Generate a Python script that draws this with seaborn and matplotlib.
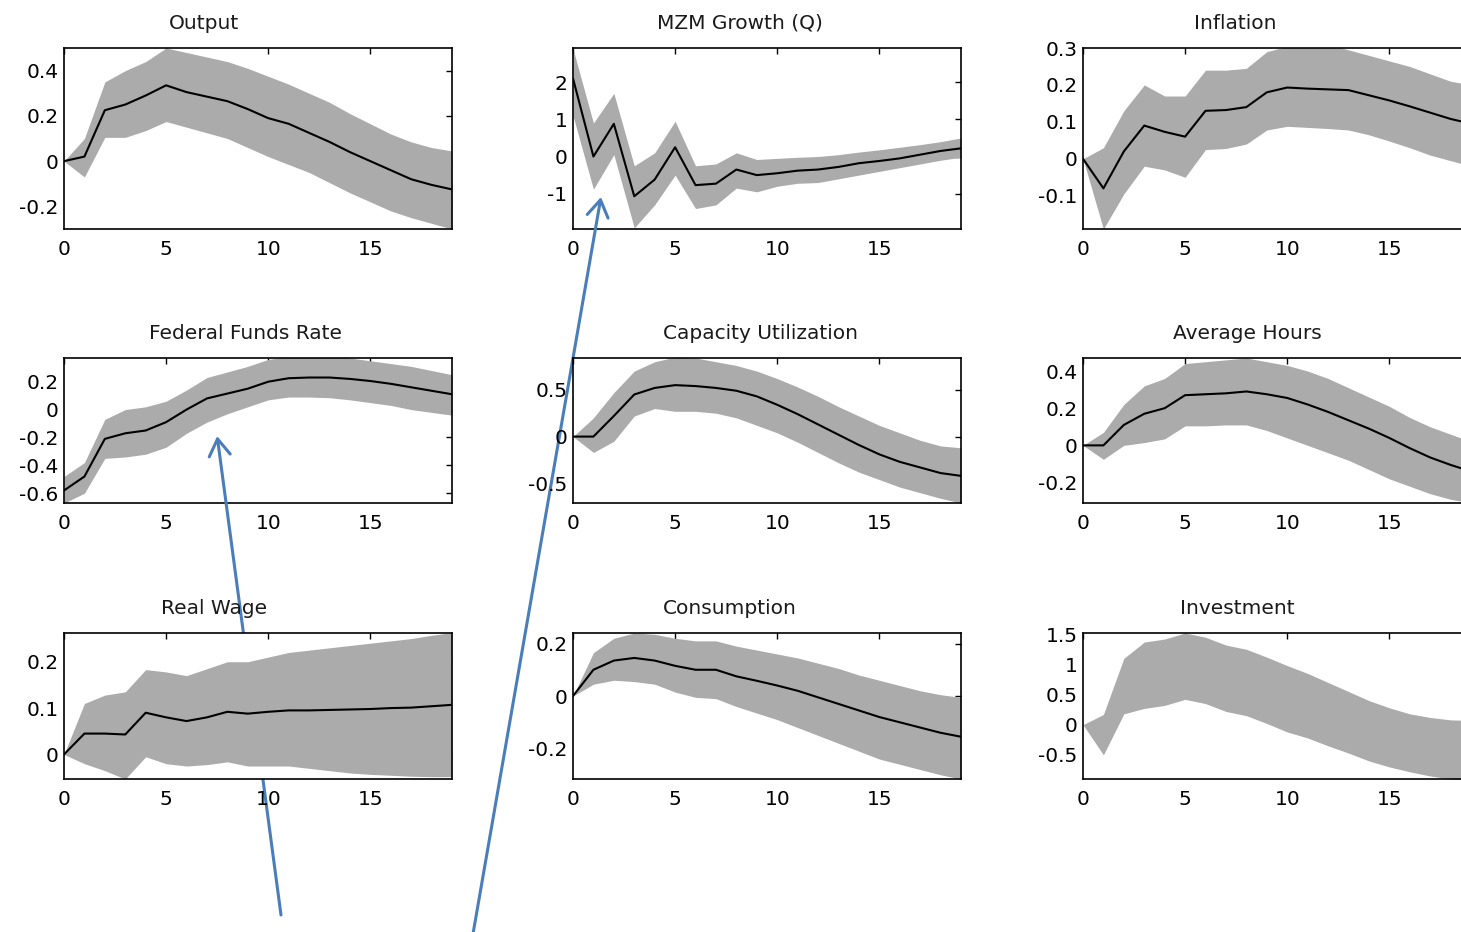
import matplotlib
matplotlib.use("Agg")
import matplotlib.pyplot as plt
import numpy as np
import pandas as pd
import seaborn as sns
from matplotlib.ticker import FuncFormatter


sns.set_theme(style="white")
plt.rcParams["font.family"] = ["DejaVu Sans"]
plt.rcParams["axes.unicode_minus"] = False

horizon = list(range(20))

# impulse responses: median, lower band, upper band
output_med = [0, 0.02, 0.225, 0.25, 0.29, 0.335, 0.305, 0.285, 0.265, 0.23, 0.19, 0.165, 0.125,
              0.085, 0.04, 0.0, -0.04, -0.08, -0.105, -0.125]
output_lo = [0, -0.07, 0.105, 0.105, 0.135, 0.175, 0.15, 0.125, 0.10, 0.06, 0.02, -0.015, -0.05,
             -0.095, -0.14, -0.18, -0.22, -0.25, -0.275, -0.3]
output_hi = [0, 0.1, 0.35, 0.40, 0.44, 0.50, 0.48, 0.46, 0.44, 0.41, 0.375, 0.34, 0.30,
             0.26, 0.21, 0.165, 0.12, 0.085, 0.06, 0.045]

mzm_med = [2.1, 0.0, 0.88, -1.07, -0.62, 0.25, -0.77, -0.73, -0.35, -0.5, -0.45, -0.38, -0.35,
           -0.28, -0.18, -0.12, -0.05, 0.05, 0.15, 0.22]
mzm_lo = [1.1, -0.88, 0.05, -1.92, -1.3, -0.5, -1.4, -1.3, -0.85, -0.95, -0.8, -0.72, -0.7,
          -0.6, -0.5, -0.4, -0.3, -0.2, -0.1, -0.02]
mzm_hi = [2.9, 0.9, 1.7, -0.25, 0.1, 0.95, -0.25, -0.2, 0.1, -0.08, -0.05, -0.02, 0.0,
          0.05, 0.12, 0.18, 0.25, 0.32, 0.4, 0.5]

infl_med = [0, -0.08, 0.02, 0.09, 0.073, 0.06, 0.13, 0.132, 0.14, 0.18, 0.193, 0.19, 0.188,
            0.186, 0.172, 0.158, 0.142, 0.125, 0.108, 0.095]
infl_lo = [0, -0.19, -0.095, -0.02, -0.03, -0.05, 0.025, 0.028, 0.04, 0.078, 0.088, 0.085, 0.082,
           0.078, 0.065, 0.048, 0.03, 0.01, -0.005, -0.02]
infl_hi = [0, 0.03, 0.13, 0.2, 0.17, 0.17, 0.24, 0.24, 0.245, 0.29, 0.305, 0.31, 0.31,
           0.295, 0.28, 0.265, 0.25, 0.23, 0.21, 0.2]

ffr_med = [-0.58, -0.48, -0.21, -0.17, -0.15, -0.09, 0.0, 0.08, 0.115, 0.15, 0.2, 0.225, 0.23,
           0.23, 0.22, 0.205, 0.185, 0.16, 0.135, 0.11]
ffr_lo = [-0.67, -0.6, -0.35, -0.34, -0.32, -0.27, -0.17, -0.09, -0.03, 0.02, 0.07, 0.09, 0.09,
          0.085, 0.07, 0.05, 0.03, 0.0, -0.02, -0.04]
ffr_hi = [-0.48, -0.38, -0.07, 0.0, 0.02, 0.06, 0.14, 0.23, 0.27, 0.31, 0.36, 0.38, 0.39,
          0.39, 0.37, 0.35, 0.33, 0.31, 0.28, 0.25]

cap_med = [0, 0, 0.22, 0.45, 0.52, 0.55, 0.54, 0.52, 0.49, 0.43, 0.34, 0.24, 0.13,
           0.02, -0.09, -0.19, -0.27, -0.33, -0.39, -0.42]
cap_lo = [0, -0.17, -0.05, 0.22, 0.3, 0.27, 0.27, 0.25, 0.2, 0.12, 0.04, -0.06, -0.17,
          -0.28, -0.38, -0.46, -0.54, -0.6, -0.66, -0.71]
cap_hi = [0, 0.2, 0.47, 0.7, 0.8, 0.85, 0.84, 0.8, 0.76, 0.7, 0.62, 0.53, 0.43,
          0.32, 0.22, 0.12, 0.04, -0.04, -0.1, -0.12]

hours_med = [0, 0.0, 0.11, 0.17, 0.2, 0.27, 0.275, 0.28, 0.29, 0.275, 0.255, 0.22, 0.18,
             0.135, 0.09, 0.04, -0.015, -0.065, -0.105, -0.14]
hours_lo = [0, -0.075, 0.0, 0.015, 0.035, 0.105, 0.105, 0.11, 0.11, 0.08, 0.04, 0.0, -0.04,
            -0.08, -0.13, -0.18, -0.22, -0.26, -0.29, -0.31]
hours_hi = [0, 0.07, 0.22, 0.32, 0.36, 0.44, 0.45, 0.46, 0.47, 0.45, 0.43, 0.4, 0.36,
            0.31, 0.26, 0.21, 0.15, 0.1, 0.06, 0.02]

wage_med = [0, 0.045, 0.045, 0.043, 0.09, 0.08, 0.072, 0.08, 0.092, 0.088, 0.092, 0.095, 0.095,
            0.096, 0.097, 0.098, 0.1, 0.101, 0.104, 0.107]
wage_lo = [0, -0.02, -0.035, -0.053, -0.005, -0.02, -0.025, -0.022, -0.016, -0.025, -0.025, -0.025,
           -0.03, -0.035, -0.04, -0.043, -0.045, -0.047, -0.048, -0.048]
wage_hi = [0, 0.11, 0.128, 0.135, 0.183, 0.178, 0.17, 0.185, 0.2, 0.2, 0.21, 0.22, 0.225,
           0.23, 0.235, 0.24, 0.245, 0.25, 0.257, 0.263]

cons_med = [0, 0.1, 0.135, 0.145, 0.135, 0.115, 0.1, 0.1, 0.075, 0.058, 0.04, 0.02, -0.005,
            -0.03, -0.055, -0.08, -0.1, -0.12, -0.14, -0.155]
cons_lo = [0, 0.045, 0.06, 0.055, 0.045, 0.015, -0.005, -0.01, -0.04, -0.065, -0.09, -0.12, -0.15,
           -0.18, -0.21, -0.24, -0.26, -0.28, -0.3, -0.316]
cons_hi = [0, 0.165, 0.22, 0.24, 0.235, 0.22, 0.21, 0.21, 0.19, 0.175, 0.16, 0.145, 0.125,
           0.105, 0.08, 0.06, 0.04, 0.02, 0.005, -0.005]

inv_lo = [0, -0.5, 0.18, 0.27, 0.32, 0.42, 0.35, 0.22, 0.15, 0.02, -0.12, -0.22, -0.35,
          -0.47, -0.6, -0.7, -0.78, -0.85, -0.9, -0.92]
inv_hi = [0, 0.17, 1.1, 1.37, 1.42, 1.52, 1.45, 1.32, 1.25, 1.12, 0.98, 0.85, 0.7,
          0.55, 0.4, 0.28, 0.18, 0.12, 0.08, 0.07]

panels = [
    # title, median, lower, upper, ylim, yticks, title x
    ("Output", output_med, output_lo, output_hi, (-0.3, 0.5), [-0.2, 0, 0.2, 0.4], 0.362),
    ("MZM Growth (Q)", mzm_med, mzm_lo, mzm_hi, (-1.95, 2.92), [-1, 0, 1, 2], 0.43),
    ("Inflation", infl_med, infl_lo, infl_hi, (-0.19, 0.3), [-0.1, 0, 0.1, 0.2, 0.3], 0.392),
    ("Federal Funds Rate", ffr_med, ffr_lo, ffr_hi, (-0.67, 0.37), [-0.6, -0.4, -0.2, 0, 0.2], 0.468),
    ("Capacity Utilization", cap_med, cap_lo, cap_hi, (-0.71, 0.84), [-0.5, 0, 0.5], 0.482),
    ("Average Hours", hours_med, hours_lo, hours_hi, (-0.31, 0.47), [-0.2, 0, 0.2, 0.4], 0.423),
    ("Real Wage", wage_med, wage_lo, wage_hi, (-0.053, 0.262), [0, 0.1, 0.2], 0.388),
    ("Consumption", cons_med, cons_lo, cons_hi, (-0.316, 0.24), [-0.2, 0, 0.2], 0.405),
    ("Investment", None, inv_lo, inv_hi, (-0.9, 1.52), [-0.5, 0, 0.5, 1, 1.5], 0.397),
]

W, H = 1461, 932
col_left = [64, 573, 1083]
col_width = 388
rows = [(48, 229), (358, 503), (633, 779)]

fig = plt.figure(figsize=(W / 100, H / 100), dpi=100)
fmt = FuncFormatter(lambda v, _: f"{v:g}")
axes = []
for i, (title, med, lo, hi, ylim, yticks, tx) in enumerate(panels):
    top, bottom = rows[i // 3]
    left = col_left[i % 3]
    ax = fig.add_axes([left / W, 1 - bottom / H, col_width / W, (bottom - top) / H])
    df = pd.DataFrame({"h": horizon, "lo": lo, "hi": hi})
    ax.fill_between(df["h"], df["lo"], df["hi"], color="#ababab", linewidth=0)
    if med is not None:
        sns.lineplot(x=horizon, y=med, ax=ax, color="black", linewidth=1.5)
    ax.set_xlim(0, 19)
    ax.set_ylim(*ylim)
    ax.set_xticks([0, 5, 10, 15])
    ax.set_yticks(yticks)
    ax.yaxis.set_major_formatter(fmt)
    ax.tick_params(direction="in", top=True, right=True, length=4, width=1,
                   labelsize=14.5, colors="black")
    ax.tick_params(axis="x", pad=8)
    ax.tick_params(axis="y", pad=4)
    for s in ax.spines.values():
        s.set_color("black")
        s.set_linewidth(1.2)
    ax.set_title(title, x=tx, fontsize=14.5, pad=14, color="#1a1a1a")
    axes.append(ax)

# annotation arrows pointing into two panels
arrow_kw = dict(arrowstyle="->,head_length=0.6,head_width=0.38", color="#4a7ebb",
                lw=2.2, mutation_scale=20, shrinkA=0, shrinkB=0)
axes[3].annotate("", xy=(7.5, -0.19), xycoords="data", xytext=(281 / W, 1 - 915 / H),
                 textcoords="figure fraction", arrowprops=arrow_kw, annotation_clip=False)
axes[1].annotate("", xy=(1.37, -1.09), xycoords="data", xytext=(473 / W, -0.002),
                 textcoords="figure fraction", arrowprops=arrow_kw, annotation_clip=False)

fig.savefig("out.png", dpi=100)
